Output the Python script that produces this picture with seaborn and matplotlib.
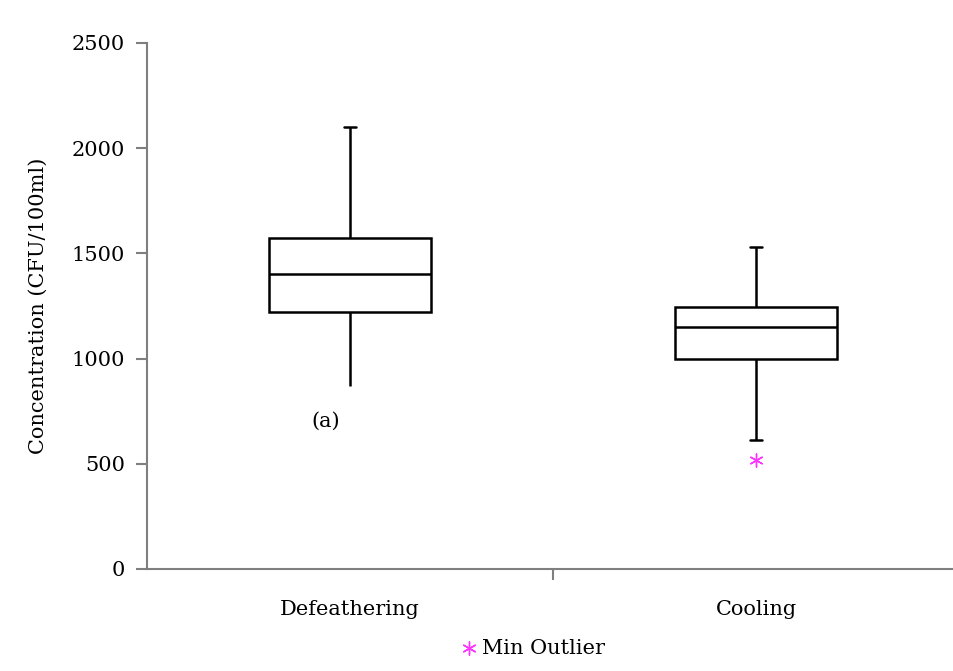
import numpy as np
import pandas as pd
import matplotlib
matplotlib.use("Agg")
import matplotlib.pyplot as plt
import seaborn as sns

# Box summary: min, Q1, median, Q3, max
stages = ["Defeathering", "Cooling"]
defeathering_vals = [870, 1220, 1400, 1575, 2100]
cooling_vals = [613, 1000, 1150, 1245, 1530]
outlier_stage = ["Cooling"]
outlier_vals = [518]
y_ticks = [0, 500, 1000, 1500, 2000, 2500]

df = pd.DataFrame({
    "Stage": [stages[0]] * len(defeathering_vals) + [stages[1]] * len(cooling_vals),
    "Concentration": defeathering_vals + cooling_vals,
})
out_df = pd.DataFrame({"Stage": outlier_stage, "Concentration": outlier_vals})

sns.set_style("white")
plt.rcParams["font.family"] = ["DejaVu Serif"]
plt.rcParams["text.color"] = "black"
plt.rcParams["axes.labelcolor"] = "black"
plt.rcParams["xtick.color"] = "black"
plt.rcParams["ytick.color"] = "black"

fig = plt.figure(figsize=(9.54, 6.71), dpi=100)
ax = fig.add_axes([147 / 954, 1 - 569 / 671, (954 - 147) / 954, 526 / 671])

sns.boxplot(
    data=df,
    x="Stage",
    y="Concentration",
    order=stages,
    whis=np.inf,
    width=0.4,
    color="white",
    linecolor="black",
    linewidth=1.8,
    fill=True,
    ax=ax,
)
for patch in ax.patches:
    patch.set_edgecolor("black")
    patch.set_facecolor("white")

# short caps; the lower whisker of Defeathering has no cap in the original
cap_half = 0.014
for ln in ax.lines:
    yd = np.asarray(ln.get_ydata(), dtype=float)
    xd = np.asarray(ln.get_xdata(), dtype=float)
    if len(yd) == 2 and yd[0] == yd[1] and xd[0] != xd[1]:
        mid = xd.mean()
        idx = int(round(mid))
        vals = defeathering_vals if idx == 0 else cooling_vals
        if yd[0] in (vals[0], vals[-1]):
            ln.set_xdata([mid - cap_half, mid + cap_half])
            if idx == 0 and yd[0] == vals[0]:
                ln.set_visible(False)

ax.scatter(
    [stages.index(s) for s in out_df["Stage"]],
    out_df["Concentration"],
    marker=(6, 2, 0),
    s=90,
    color="#ff33ff",
    linewidths=1.0,
    zorder=5,
    label="Min Outlier",
)

ax.text(-0.06, 700, "(a)", fontsize=15, ha="center", va="center")

ax.set_xlim(-0.5, -0.5 + 807 / 406)
ax.set_ylim(0, 2500)
ax.set_yticks(y_ticks)
ax.set_xlabel("")
ax.set_ylabel("Concentration (CFU/100ml)", fontsize=15, labelpad=17)

for side in ["top", "right"]:
    ax.spines[side].set_visible(False)
for side in ["left", "bottom"]:
    ax.spines[side].set_color("#7f7f7f")
    ax.spines[side].set_linewidth(1.5)

ax.tick_params(axis="y", direction="out", length=8, width=1.5, color="#7f7f7f",
               labelsize=15, pad=8, left=True)
ax.tick_params(axis="x", which="major", length=0, labelsize=15, pad=22)
ax.set_xticks([0.5], minor=True)
ax.tick_params(axis="x", which="minor", direction="out", length=8, width=1.5,
               color="#7f7f7f", bottom=True)

handles, labels = ax.get_legend_handles_labels()
fig.legend(handles, labels, loc="center", bbox_to_anchor=(532 / 954, 1 - 648 / 671),
           frameon=False, fontsize=15, handletextpad=0.1, handlelength=1.0)

fig.savefig("out.png", dpi=100, facecolor="white")
